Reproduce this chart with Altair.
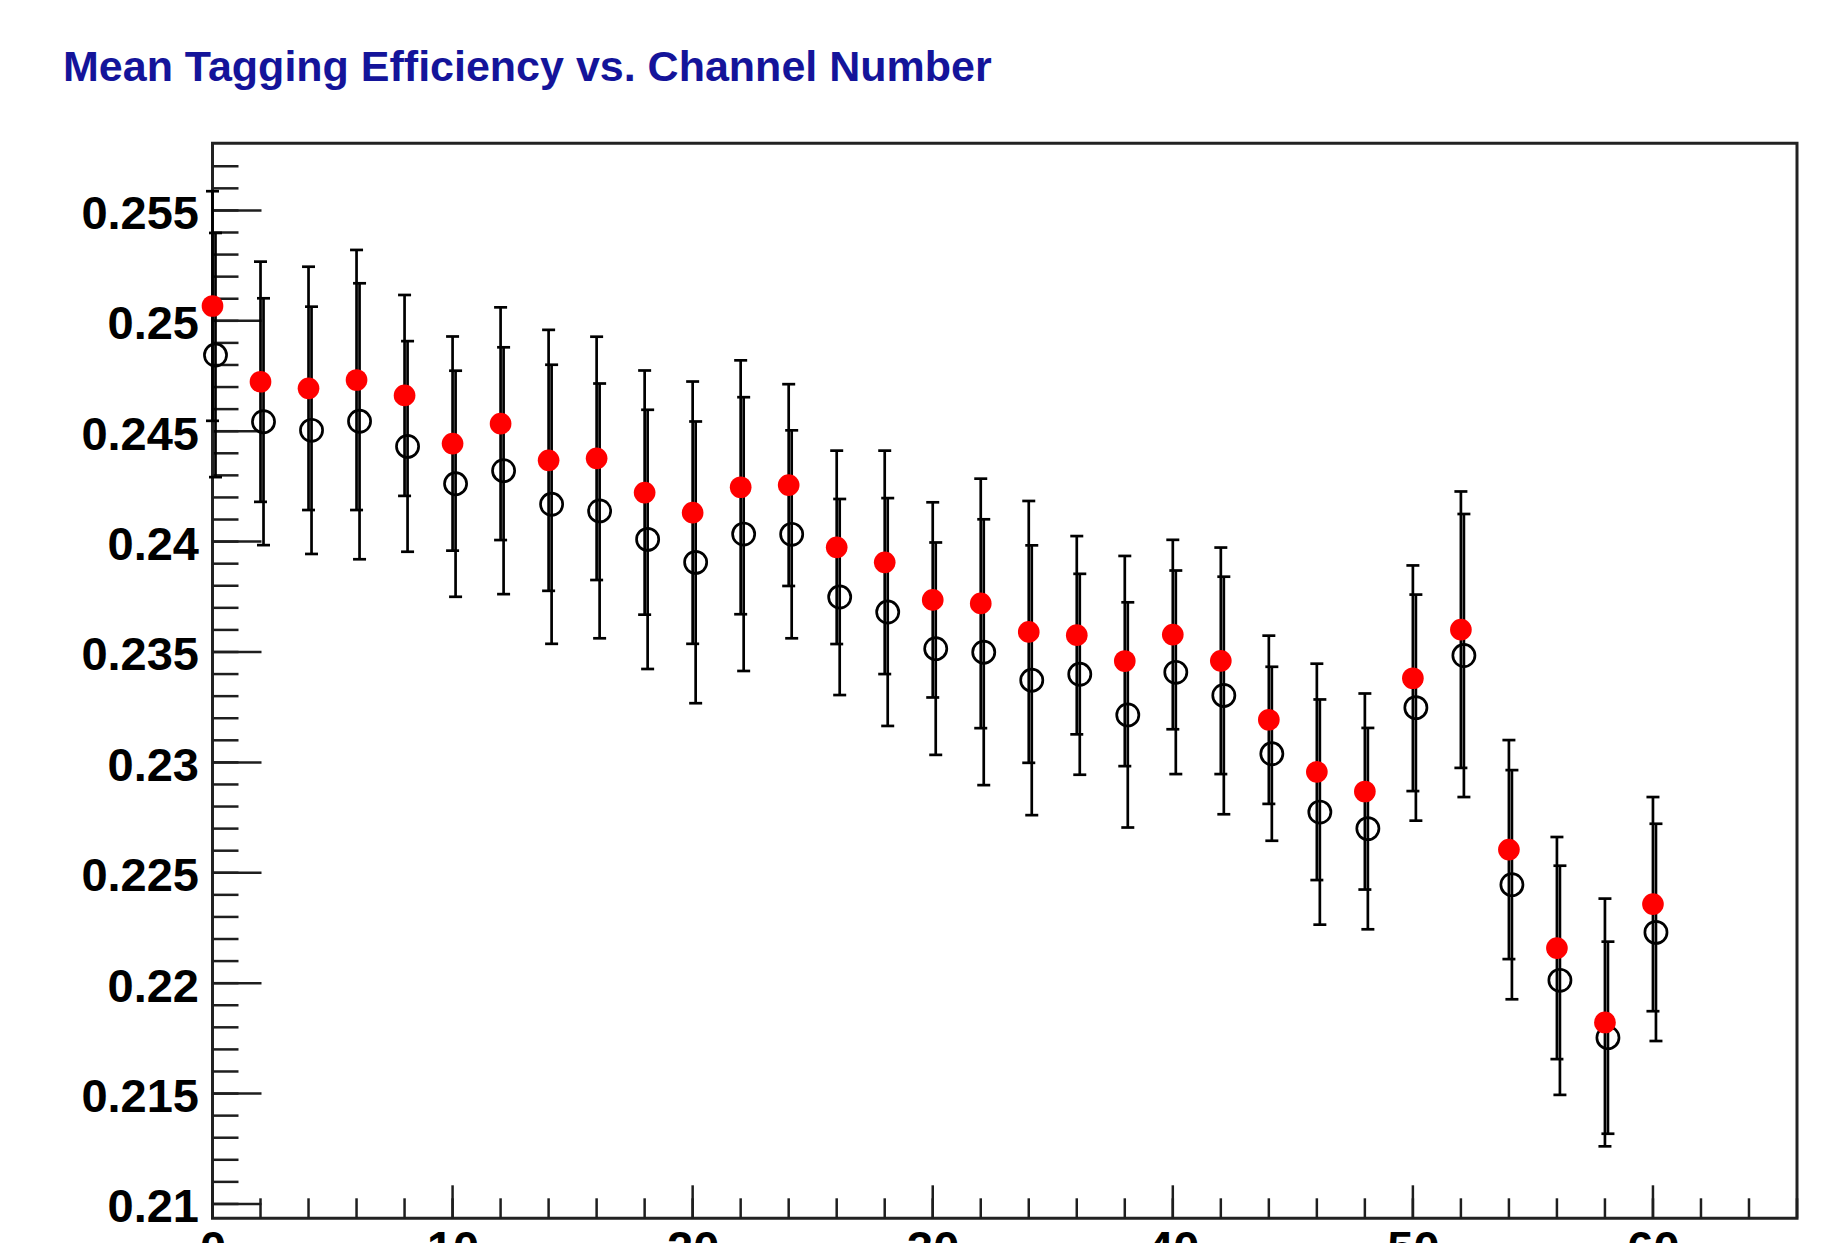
import altair as alt
import pandas as pd

# ---------------- data ----------------
channels = [0, 2, 4, 6, 8, 10, 12, 14, 16, 18, 20, 22, 24, 26, 28, 30,
            32, 34, 36, 38, 40, 42, 44, 46, 48, 50, 52, 54, 56, 58, 60]

eff_filled = [0.25067, 0.24724, 0.24694, 0.24732, 0.24662, 0.24444, 0.24534, 0.24368,
              0.24377, 0.24222, 0.24131, 0.24246, 0.24256, 0.23974, 0.23906, 0.23736,
              0.23720, 0.23591, 0.23576, 0.23459, 0.23579, 0.23460, 0.23193, 0.22957,
              0.22868, 0.23381, 0.23601, 0.22605, 0.22159, 0.21822, 0.22358]
err_filled = [0.00520, 0.00544, 0.00551, 0.00589, 0.00455, 0.00485, 0.00527, 0.00591,
              0.00551, 0.00553, 0.00594, 0.00575, 0.00457, 0.00438, 0.00506, 0.00442,
              0.00565, 0.00593, 0.00449, 0.00476, 0.00429, 0.00513, 0.00381, 0.00490,
              0.00444, 0.00511, 0.00626, 0.00496, 0.00503, 0.00561, 0.00485]

eff_open = [0.24845, 0.24543, 0.24504, 0.24545, 0.24431, 0.24262, 0.24321, 0.24169,
            0.24139, 0.24010, 0.23906, 0.24034, 0.24033, 0.23749, 0.23681, 0.23515,
            0.23499, 0.23372, 0.23399, 0.23215, 0.23408, 0.23303, 0.23039, 0.22775,
            0.22700, 0.23248, 0.23484, 0.22446, 0.22013, 0.21753, 0.22230]
err_open = [0.00553, 0.00559, 0.00560, 0.00625, 0.00477, 0.00512, 0.00559, 0.00632,
            0.00577, 0.00587, 0.00638, 0.00620, 0.00471, 0.00444, 0.00516, 0.00481,
            0.00602, 0.00611, 0.00455, 0.00510, 0.00461, 0.00538, 0.00394, 0.00510,
            0.00456, 0.00512, 0.00641, 0.00519, 0.00519, 0.00435, 0.00492]

x_labels = [0, 10, 20, 30, 40, 50, 60]
y_labels = [0.21, 0.215, 0.22, 0.225, 0.23, 0.235, 0.24, 0.245, 0.25, 0.255]
x_minor = [0, 2, 4, 6, 8, 10, 12, 14, 16, 18, 20, 22, 24, 26, 28, 30, 32, 34,
           36, 38, 40, 42, 44, 46, 48, 50, 52, 54, 56, 58, 60, 62, 64, 66]
y_minor = [round(0.210 + 0.001 * i, 3) for i in range(48)]

TITLE = "Mean Tagging Efficiency vs. Channel Number"

# ---------------- layout ----------------
W, H = 1584.5, 1075
X_DOMAIN = [0, 66]
Y_DOMAIN = [0.20935, 0.25804]
FONT = "Liberation Sans"

x_axis = alt.Axis(values=x_labels, format="d", title=None, grid=False, domain=False,
                  tickSize=0, labelFont=FONT, labelFontWeight="bold", labelFontSize=47,
                  labelColor="black", labelPadding=8, labelFlush=False,
                  labelOverlap=False, labelAngle=0, labelBaseline="top")
y_axis = alt.Axis(values=y_labels, format=".3~f", title=None, grid=False, domain=False,
                  tickSize=0, labelFont=FONT, labelFontWeight="bold", labelFontSize=47,
                  labelColor="black", labelPadding=14, labelFlush=False,
                  labelOverlap=False, labelOffset=4)


def X(field):
    return alt.X(field, type="quantitative",
                 scale=alt.Scale(domain=X_DOMAIN, nice=False, zero=False), axis=x_axis)


def Y(field):
    return alt.Y(field, type="quantitative",
                 scale=alt.Scale(domain=Y_DOMAIN, nice=False, zero=False), axis=y_axis)


filled = pd.DataFrame({"ch": channels, "eff": eff_filled})
filled["lo"] = filled["eff"] - pd.Series(err_filled)
filled["hi"] = filled["eff"] + pd.Series(err_filled)
opened = pd.DataFrame({"ch": channels, "eff": eff_open})
opened["lo"] = opened["eff"] - pd.Series(err_open)
opened["hi"] = opened["eff"] + pd.Series(err_open)

ytick_df = pd.DataFrame({"t": y_minor})
ytick_major_df = pd.DataFrame({"t": y_labels})
xtick_df = pd.DataFrame({"t": x_minor})
xtick_major_df = pd.DataFrame({"t": x_labels})

TICK_COLOR = "#1e1e1e"

y_minor_ticks = alt.Chart(ytick_df).mark_rule(color=TICK_COLOR, strokeWidth=2.5).encode(
    y=Y("t"), x=alt.value(0), x2=alt.value(26))
y_major_ticks = alt.Chart(ytick_major_df).mark_rule(color=TICK_COLOR, strokeWidth=2.5).encode(
    y=Y("t"), x=alt.value(0), x2=alt.value(49))
x_minor_ticks = alt.Chart(xtick_df).mark_rule(color=TICK_COLOR, strokeWidth=2.5).encode(
    x=X("t"), y=alt.value(H), y2=alt.value(H - 20))
x_major_ticks = alt.Chart(xtick_major_df).mark_rule(color=TICK_COLOR, strokeWidth=2.5).encode(
    x=X("t"), y=alt.value(H), y2=alt.value(H - 33))


def error_layers(df, dx):
    bar = alt.Chart(df).mark_rule(color="black", strokeWidth=2.7, xOffset=dx).encode(
        x=X("ch"), y=Y("lo"), y2="hi")
    cap_lo = alt.Chart(df).mark_tick(orient="horizontal", size=13, thickness=2.7,
                                     color="black", opacity=1, xOffset=dx).encode(
        x=X("ch"), y=Y("lo"))
    cap_hi = alt.Chart(df).mark_tick(orient="horizontal", size=13, thickness=2.7,
                                     color="black", opacity=1, xOffset=dx).encode(
        x=X("ch"), y=Y("hi"))
    return [bar, cap_lo, cap_hi]


open_points = alt.Chart(opened).mark_point(shape="circle", filled=False, stroke="black",
                                           strokeWidth=2.7, size=490, opacity=1,
                                           xOffset=3).encode(x=X("ch"), y=Y("eff"))
filled_points = alt.Chart(filled).mark_point(shape="circle", filled=True, fill="#ff0000",
                                             color="#ff0000", strokeWidth=0, size=470,
                                             opacity=1).encode(x=X("ch"), y=Y("eff"))

layers = ([y_minor_ticks, y_major_ticks, x_minor_ticks, x_major_ticks]
          + error_layers(filled, 0) + error_layers(opened, 3)
          + [open_points, filled_points])

chart = alt.layer(*layers).properties(
    width=W, height=H,
    title=alt.TitleParams(text=TITLE, anchor="start", frame="group", orient="top",
                          dx=-149.5, offset=19.5, baseline="alphabetic", font=FONT,
                          fontSize=43, fontWeight="bold", color="#14149a"),
    autosize=alt.AutoSizeParams(type="none"),
    padding={"left": 204.5, "top": 135.3, "right": 20, "bottom": 24.7},
).configure_view(stroke="#222222", strokeWidth=3)

chart.save("out.html", embed_options={"renderer": "svg", "actions": False})
